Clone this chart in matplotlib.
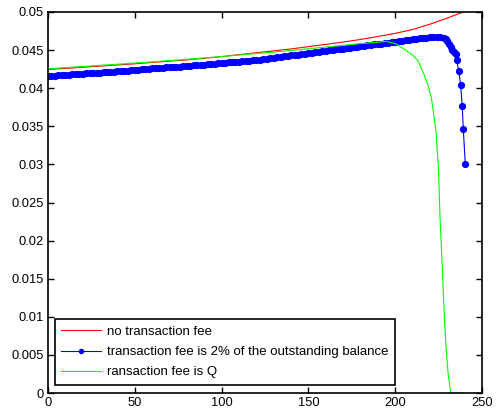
import matplotlib
matplotlib.use("Agg")
import matplotlib.pyplot as plt
import numpy as np

plt.rcParams['font.family'] = ['Liberation Sans', 'DejaVu Sans']

# no transaction fee
x_red = [0, 10, 20, 30, 40, 50, 60, 70, 80, 90, 100, 110, 120, 130, 140, 150,
         160, 170, 180, 190, 200, 210, 220, 230, 235, 240]
y_red = [0.04245, 0.04260, 0.04275, 0.04290, 0.04305, 0.04320, 0.04338, 0.04355,
         0.04372, 0.04392, 0.04415, 0.04440, 0.04465, 0.04490, 0.04515, 0.04545,
         0.04575, 0.04605, 0.04640, 0.04678, 0.04720, 0.04770, 0.04840, 0.04920,
         0.04965, 0.05005]

# transaction fee is 2% of the outstanding balance
x_blue = list(np.arange(0, 229, 2)) + [229, 230, 231, 232, 233, 234, 234.8, 235.4,
                                       236.6, 237.7, 238.6, 239.2, 240.4]
y_blue = [0.04160, 0.04163, 0.04166, 0.04169, 0.04172, 0.04175, 0.04178, 0.04181,
          0.04184, 0.04187, 0.04190, 0.04193, 0.04196, 0.04199, 0.04202, 0.04205,
          0.04208, 0.04211, 0.04214, 0.04217, 0.04220, 0.04224, 0.04228, 0.04232,
          0.04236, 0.04240, 0.04244, 0.04248, 0.04252, 0.04256, 0.04260, 0.04263,
          0.04266, 0.04269, 0.04272, 0.04275, 0.04278, 0.04281, 0.04284, 0.04287,
          0.04290, 0.04294, 0.04298, 0.04302, 0.04306, 0.04310, 0.04314, 0.04318,
          0.04322, 0.04326, 0.04330, 0.04334, 0.04338, 0.04342, 0.04346, 0.04350,
          0.04354, 0.04358, 0.04362, 0.04366, 0.04370, 0.04376, 0.04382, 0.04388,
          0.04394, 0.04400, 0.04406, 0.04412, 0.04418, 0.04424, 0.04430, 0.04436,
          0.04442, 0.04448, 0.04454, 0.04460, 0.04466, 0.04472, 0.04478, 0.04484,
          0.04490, 0.04496, 0.04502, 0.04508, 0.04514, 0.04520, 0.04526, 0.04532,
          0.04538, 0.04544, 0.04550, 0.04556, 0.04562, 0.04568, 0.04574, 0.04580,
          0.04586, 0.04592, 0.04598, 0.04604, 0.04610, 0.04616, 0.04622, 0.04628,
          0.04634, 0.04640, 0.04647, 0.04653, 0.04658, 0.04663, 0.04667, 0.04670,
          0.04671, 0.04670, 0.04665,
          0.04645, 0.04615, 0.04585, 0.04545, 0.04505, 0.04475, 0.04450, 0.04365,
          0.04230, 0.04040, 0.03770, 0.03470, 0.03000]

# transaction fee is Q
x_green = [0, 20, 40, 60, 80, 100, 120, 140, 160, 180, 190, 195, 200, 205, 210,
           213, 216, 219, 221, 223.5, 224.9, 225.8, 227.1, 228.3, 229.3, 230.5,
           232, 240]
y_green = [0.04255, 0.04285, 0.04315, 0.04345, 0.04380, 0.04415, 0.04455, 0.04495,
           0.04540, 0.04585, 0.04603, 0.04615, 0.04585, 0.04515, 0.04435, 0.04365,
           0.04215, 0.04035, 0.03850, 0.03430, 0.02970, 0.02310, 0.01660, 0.01000,
           0.00610, 0.00250, 0.0, 0.0]

x_ticks = [0, 50, 100, 150, 200, 250]
y_ticks = [0, 0.005, 0.01, 0.015, 0.02, 0.025, 0.03, 0.035, 0.04, 0.045, 0.05]
y_tick_labels = ['0', '0.005', '0.01', '0.015', '0.02', '0.025', '0.03',
                 '0.035', '0.04', '0.045', '0.05']

fig = plt.figure(figsize=(4.97, 4.16), dpi=100)
ax = fig.add_axes([48 / 497, 23 / 416, 434 / 497, 381 / 416])

ax.plot(x_red, y_red, color='#ff0000', lw=0.8, label='no transaction fee')
ax.plot(x_blue, y_blue, '-o', color='#0000ff', lw=0.8, ms=4.2,
        label='transaction fee is 2% of the outstanding balance')
ax.plot(x_green, y_green, color='#00ff00', lw=0.8, label='ransaction fee is Q')

ax.set_xlim(0, 250)
ax.set_ylim(0, 0.05)
ax.set_xticks(x_ticks)
ax.set_yticks(y_ticks)
ax.set_yticklabels(y_tick_labels)
ax.tick_params(direction='in', top=True, right=True, length=4, width=1,
               labelsize=9.3, colors='black', pad=3)
for s in ax.spines.values():
    s.set_linewidth(1.2)

leg = ax.legend(loc='lower left', bbox_to_anchor=(0.0155, 0.021), fontsize=9.5,
                fancybox=False, edgecolor='black', framealpha=1,
                handlelength=3.0, handletextpad=0.45, borderpad=0.5,
                labelspacing=0.6, markerscale=0.7, borderaxespad=0)
leg.get_frame().set_linewidth(1.2)

fig.savefig('out.png', dpi=100)
